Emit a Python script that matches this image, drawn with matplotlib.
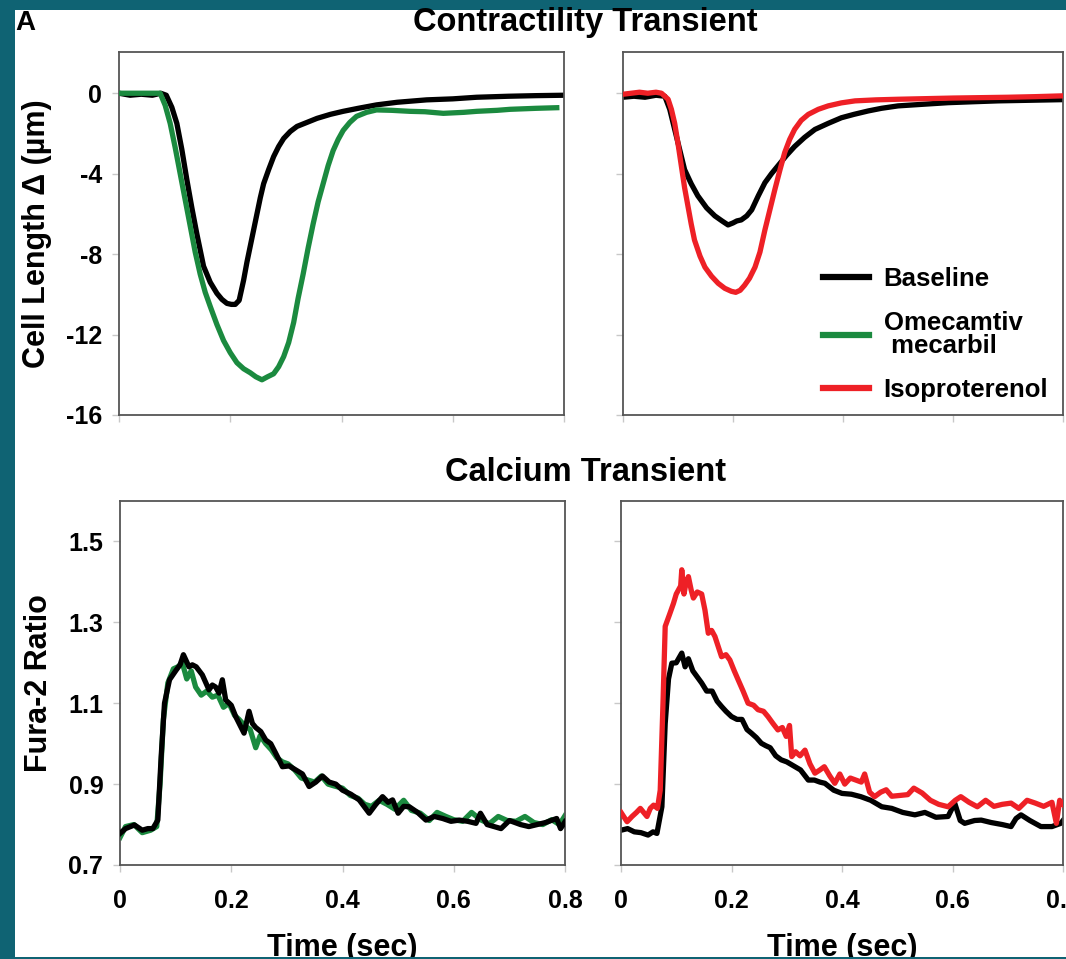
import matplotlib
matplotlib.use("Agg")
import matplotlib.pyplot as plt
from matplotlib.patches import Rectangle
from matplotlib.lines import Line2D

plt.rcParams['font.family'] = ['Liberation Sans', 'DejaVu Sans']
plt.rcParams['font.weight'] = 'bold'
plt.rcParams['axes.unicode_minus'] = False

# ---------------- data (time in s, value) ----------------
TL_BASE = [(0, 0), (0.02, -0.1), (0.04, -0.05), (0.06, -0.1), (0.075, 0), (0.085, -0.1),
           (0.095, -0.7), (0.104, -1.5), (0.113, -2.8), (0.122, -4.3), (0.131, -5.7),
           (0.140, -7.0), (0.152, -8.6), (0.164, -9.4), (0.176, -9.95), (0.185, -10.25),
           (0.194, -10.45), (0.202, -10.5), (0.209, -10.5), (0.216, -10.3), (0.224, -9.3),
           (0.230, -8.4), (0.236, -7.6), (0.242, -6.8), (0.248, -6.0), (0.254, -5.2),
           (0.260, -4.5), (0.269, -3.8), (0.278, -3.15), (0.287, -2.65), (0.296, -2.25),
           (0.308, -1.9), (0.320, -1.65), (0.338, -1.45), (0.356, -1.25), (0.38, -1.05),
           (0.403, -0.9), (0.43, -0.75), (0.463, -0.58), (0.50, -0.45), (0.553, -0.33),
           (0.60, -0.28), (0.643, -0.2), (0.70, -0.15), (0.75, -0.12), (0.80, -0.1)]

TL_OM = [(0, 0), (0.02, 0), (0.04, 0), (0.06, 0), (0.074, 0), (0.083, -0.6), (0.092, -1.5),
         (0.101, -2.7), (0.11, -4.0), (0.119, -5.3), (0.128, -6.6), (0.137, -7.9),
         (0.146, -9.0), (0.155, -9.9), (0.164, -10.6), (0.176, -11.5), (0.188, -12.3),
         (0.2, -12.9), (0.212, -13.4), (0.224, -13.7), (0.236, -13.9), (0.246, -14.1),
         (0.257, -14.25), (0.267, -14.1), (0.278, -13.95), (0.287, -13.6), (0.296, -13.1),
         (0.305, -12.4), (0.314, -11.4), (0.322, -10.2), (0.331, -9.0), (0.34, -7.7),
         (0.349, -6.5), (0.358, -5.4), (0.367, -4.5), (0.376, -3.6), (0.385, -2.85),
         (0.394, -2.3), (0.403, -1.85), (0.415, -1.45), (0.427, -1.15), (0.445, -0.95),
         (0.463, -0.83), (0.49, -0.85), (0.523, -0.9), (0.55, -0.92), (0.583, -1.0),
         (0.62, -0.95), (0.643, -0.9), (0.68, -0.85), (0.703, -0.8), (0.75, -0.75),
         (0.787, -0.72)]

TR_BASE = [(0, -0.2), (0.02, -0.15), (0.04, -0.2), (0.06, -0.1), (0.076, -0.15),
           (0.085, -0.8), (0.094, -1.8), (0.103, -2.8), (0.112, -3.8), (0.124, -4.5),
           (0.136, -5.1), (0.152, -5.7), (0.167, -6.1), (0.18, -6.35), (0.191, -6.55),
           (0.2, -6.45), (0.207, -6.35), (0.215, -6.3), (0.225, -6.1), (0.234, -5.8),
           (0.246, -5.1), (0.258, -4.45), (0.27, -4.0), (0.282, -3.6), (0.297, -3.1),
           (0.312, -2.65), (0.33, -2.2), (0.349, -1.8), (0.373, -1.5), (0.397, -1.22),
           (0.42, -1.05), (0.446, -0.88), (0.47, -0.75), (0.5, -0.63), (0.545, -0.55),
           (0.591, -0.47), (0.64, -0.42), (0.682, -0.38), (0.74, -0.35), (0.798, -0.32)]

TR_ISO = [(0, -0.05), (0.015, 0), (0.03, 0.05), (0.045, 0), (0.06, 0.05), (0.07, 0),
          (0.082, -0.3), (0.088, -0.8), (0.094, -1.5), (0.1, -2.5), (0.106, -3.6),
          (0.112, -4.7), (0.118, -5.6), (0.124, -6.5), (0.13, -7.3), (0.14, -8.1),
          (0.149, -8.65), (0.161, -9.1), (0.173, -9.45), (0.185, -9.7), (0.197, -9.85),
          (0.205, -9.9), (0.213, -9.8), (0.221, -9.55), (0.23, -9.2), (0.24, -8.65),
          (0.249, -7.9), (0.258, -6.8), (0.267, -5.8), (0.276, -4.8), (0.285, -3.85),
          (0.294, -2.95), (0.303, -2.3), (0.312, -1.8), (0.324, -1.35), (0.337, -1.05),
          (0.355, -0.8), (0.373, -0.63), (0.397, -0.48), (0.422, -0.38), (0.46, -0.33),
          (0.5, -0.3), (0.55, -0.27), (0.6, -0.24), (0.65, -0.22), (0.7, -0.2),
          (0.75, -0.17), (0.8, -0.13)]

BL_BASE = [(0, 0.778), (0.01, 0.79), (0.026, 0.799), (0.04, 0.786), (0.05, 0.79),
           (0.059, 0.79), (0.068, 0.811), (0.074, 0.968), (0.08, 1.1), (0.089, 1.158),
           (0.101, 1.182), (0.108, 1.195), (0.114, 1.22), (0.124, 1.19), (0.13, 1.195),
           (0.137, 1.19), (0.148, 1.17), (0.16, 1.133), (0.166, 1.145), (0.172, 1.14),
           (0.178, 1.125), (0.184, 1.158), (0.19, 1.108), (0.2, 1.095), (0.208, 1.067),
           (0.216, 1.045), (0.223, 1.026), (0.232, 1.08), (0.238, 1.05), (0.244, 1.04),
           (0.253, 1.03), (0.262, 1.009), (0.271, 1.0), (0.28, 0.976), (0.292, 0.943),
           (0.304, 0.945), (0.316, 0.935), (0.328, 0.925), (0.34, 0.894), (0.352, 0.905),
           (0.364, 0.92), (0.376, 0.905), (0.388, 0.9), (0.4, 0.885), (0.415, 0.875),
           (0.43, 0.861), (0.448, 0.828), (0.46, 0.85), (0.472, 0.869), (0.482, 0.855),
           (0.49, 0.861), (0.5, 0.828), (0.51, 0.845), (0.52, 0.844), (0.535, 0.83),
           (0.55, 0.811), (0.565, 0.82), (0.58, 0.815), (0.595, 0.808), (0.61, 0.811),
           (0.625, 0.808), (0.64, 0.803), (0.648, 0.828), (0.66, 0.8), (0.685, 0.79),
           (0.7, 0.81), (0.72, 0.8), (0.735, 0.795), (0.75, 0.8), (0.765, 0.805),
           (0.785, 0.815), (0.792, 0.79), (0.8, 0.807)]

BL_OM = [(0, 0.768), (0.01, 0.795), (0.025, 0.8), (0.04, 0.78), (0.055, 0.786),
         (0.066, 0.795), (0.072, 0.9), (0.078, 1.06), (0.086, 1.15), (0.096, 1.185),
         (0.104, 1.19), (0.112, 1.2), (0.12, 1.16), (0.128, 1.18), (0.136, 1.14),
         (0.146, 1.12), (0.156, 1.13), (0.166, 1.115), (0.176, 1.12), (0.186, 1.09),
         (0.196, 1.1), (0.206, 1.07), (0.214, 1.06), (0.224, 1.045), (0.234, 1.035),
         (0.244, 0.99), (0.252, 1.02), (0.262, 1.0), (0.272, 0.985), (0.282, 0.965),
         (0.292, 0.955), (0.302, 0.95), (0.314, 0.935), (0.326, 0.915), (0.338, 0.91),
         (0.35, 0.905), (0.362, 0.92), (0.374, 0.9), (0.386, 0.895), (0.4, 0.89),
         (0.414, 0.872), (0.428, 0.865), (0.44, 0.85), (0.452, 0.845), (0.466, 0.86),
         (0.48, 0.85), (0.494, 0.838), (0.51, 0.86), (0.524, 0.835), (0.54, 0.828),
         (0.556, 0.81), (0.57, 0.83), (0.586, 0.82), (0.6, 0.812), (0.616, 0.808),
         (0.632, 0.83), (0.648, 0.812), (0.664, 0.802), (0.68, 0.82), (0.696, 0.81),
         (0.712, 0.808), (0.728, 0.82), (0.744, 0.805), (0.76, 0.8), (0.776, 0.812),
         (0.79, 0.8), (0.8, 0.822)]

BR_BASE = [(0, 0.786), (0.012, 0.79), (0.024, 0.782), (0.036, 0.78), (0.049, 0.774),
           (0.058, 0.782), (0.065, 0.778), (0.074, 0.844), (0.08, 1.05), (0.086, 1.16),
           (0.092, 1.199), (0.1, 1.2), (0.11, 1.224), (0.116, 1.19), (0.122, 1.21),
           (0.13, 1.18), (0.138, 1.165), (0.146, 1.15), (0.155, 1.13), (0.165, 1.13),
           (0.174, 1.105), (0.182, 1.092), (0.19, 1.08), (0.2, 1.067), (0.21, 1.06),
           (0.219, 1.06), (0.228, 1.035), (0.236, 1.026), (0.245, 1.015), (0.254, 1.001),
           (0.262, 0.995), (0.27, 0.99), (0.28, 0.97), (0.29, 0.96), (0.3, 0.955),
           (0.315, 0.943), (0.325, 0.935), (0.339, 0.91), (0.35, 0.91), (0.36, 0.905),
           (0.369, 0.902), (0.385, 0.885), (0.4, 0.877), (0.417, 0.875), (0.434, 0.869),
           (0.452, 0.86), (0.472, 0.844), (0.49, 0.84), (0.51, 0.83), (0.532, 0.824),
           (0.55, 0.83), (0.57, 0.818), (0.592, 0.82), (0.604, 0.853), (0.614, 0.81),
           (0.622, 0.803), (0.64, 0.81), (0.652, 0.811), (0.67, 0.805), (0.69, 0.8),
           (0.706, 0.795), (0.715, 0.815), (0.724, 0.824), (0.74, 0.81), (0.76, 0.795),
           (0.78, 0.795), (0.796, 0.803), (0.8, 0.81)]

BR_ISO = [(0, 0.83), (0.011, 0.807), (0.02, 0.82), (0.028, 0.83), (0.035, 0.84),
          (0.041, 0.83), (0.047, 0.82), (0.053, 0.84), (0.059, 0.848), (0.066, 0.84),
          (0.071, 0.885), (0.076, 1.1), (0.08, 1.29), (0.088, 1.32), (0.095, 1.347),
          (0.1, 1.37), (0.104, 1.38), (0.108, 1.39), (0.11, 1.43), (0.114, 1.37),
          (0.118, 1.4), (0.122, 1.413), (0.127, 1.38), (0.131, 1.36), (0.138, 1.375),
          (0.146, 1.37), (0.152, 1.33), (0.158, 1.273), (0.164, 1.28), (0.17, 1.265),
          (0.176, 1.24), (0.182, 1.215), (0.19, 1.22), (0.197, 1.207), (0.205, 1.18),
          (0.212, 1.158), (0.221, 1.13), (0.23, 1.1), (0.24, 1.095), (0.248, 1.084),
          (0.258, 1.08), (0.266, 1.067), (0.275, 1.05), (0.284, 1.034), (0.292, 1.04),
          (0.299, 1.018), (0.305, 1.045), (0.309, 0.968), (0.316, 0.98), (0.324, 0.97),
          (0.333, 0.984), (0.342, 0.95), (0.351, 0.927), (0.36, 0.935), (0.368, 0.943),
          (0.378, 0.92), (0.387, 0.902), (0.396, 0.925), (0.405, 0.9), (0.415, 0.915),
          (0.425, 0.91), (0.435, 0.905), (0.441, 0.925), (0.45, 0.88), (0.459, 0.869),
          (0.47, 0.88), (0.48, 0.886), (0.49, 0.87), (0.505, 0.872), (0.519, 0.874),
          (0.53, 0.89), (0.545, 0.878), (0.56, 0.86), (0.575, 0.85), (0.592, 0.844),
          (0.605, 0.86), (0.615, 0.869), (0.63, 0.855), (0.645, 0.844), (0.66, 0.86),
          (0.675, 0.845), (0.69, 0.85), (0.706, 0.853), (0.72, 0.84), (0.735, 0.86),
          (0.75, 0.853), (0.765, 0.845), (0.78, 0.855), (0.788, 0.803), (0.794, 0.86),
          (0.8, 0.85)]

X_TICKS = [0, 0.2, 0.4, 0.6, 0.8]
X_LABELS = ['0', '0.2', '0.4', '0.6', '0.8']
TOP_YTICKS = [0, -4, -8, -12, -16]
TOP_YLABELS = ['0', '-4', '-8', '-12', '-16']
BOT_YTICKS = [0.7, 0.9, 1.1, 1.3, 1.5]
BOT_YLABELS = ['0.7', '0.9', '1.1', '1.3', '1.5']
LEGEND_LABELS = ['Baseline', 'Omecamtiv\n mecarbil', 'Isoproterenol']

BLACK = '#000000'
GREEN = '#1b8a3f'
RED = '#ee2026'
TEAL = '#0f6373'

W, H = 1066, 959
fig = plt.figure(figsize=(W / 100, H / 100), dpi=100)
fig.patch.set_facecolor(TEAL)
fig.add_artist(Rectangle((15 / W, 0), 1 - 15 / W, 1 - 10 / H, transform=fig.transFigure,
                         facecolor='white', edgecolor='none', zorder=-5))


def box(l, t, r, b):
    return [l / W, (H - b) / H, (r - l) / W, (b - t) / H]


def unzip(pairs):
    return [p[0] for p in pairs], [p[1] for p in pairs]


axs = {
    'tl': fig.add_axes(box(119, 52, 564, 415)),
    'tr': fig.add_axes(box(623, 52, 1063, 415)),
    'bl': fig.add_axes(box(120, 501, 565, 865)),
    'br': fig.add_axes(box(621, 501, 1063, 865)),
}

TICK_FS = 18
LABEL_FS = 22
LW = 3.8
for key, ax in axs.items():
    ax.set_xlim(0, 0.8)
    ax.set_xticks(X_TICKS)
    for sp in ax.spines.values():
        sp.set_color('#555555')
        sp.set_linewidth(1.3)
    ax.tick_params(direction='out', length=5, width=1, color='#c8c8c8',
                   labelsize=TICK_FS)
    if key in ('tl', 'tr'):
        ax.set_ylim(-16, 2.05)
        ax.set_yticks(TOP_YTICKS)
        ax.set_xticklabels([])
    else:
        ax.set_ylim(0.7, 1.6)
        ax.set_yticks(BOT_YTICKS)
        ax.set_xticklabels(X_LABELS, fontweight='bold')
        ax.tick_params(axis='x', pad=12)
        ax.set_xlabel('Time (sec)', fontsize=LABEL_FS, fontweight='bold', labelpad=15)
    if key in ('tr', 'br'):
        ax.set_yticklabels([])
    ax.tick_params(axis='y', pad=7)

axs['tl'].set_yticklabels(TOP_YLABELS, fontweight='bold')
axs['bl'].set_yticklabels(BOT_YLABELS, fontweight='bold')
axs['tl'].set_ylabel('Cell Length \u0394 (\u00b5m)', fontsize=LABEL_FS, fontweight='bold',
                     labelpad=10)
axs['bl'].set_ylabel('Fura-2 Ratio', fontsize=LABEL_FS, fontweight='bold', labelpad=10)

axs['tl'].plot(*unzip(TL_BASE), color=BLACK, lw=LW, zorder=2)
axs['tl'].plot(*unzip(TL_OM), color=GREEN, lw=LW, zorder=3)
axs['tr'].plot(*unzip(TR_BASE), color=BLACK, lw=LW, zorder=2)
axs['tr'].plot(*unzip(TR_ISO), color=RED, lw=LW, zorder=3)
axs['bl'].plot(*unzip(BL_OM), color=GREEN, lw=LW, zorder=2)
axs['bl'].plot(*unzip(BL_BASE), color=BLACK, lw=LW, zorder=3)
axs['br'].plot(*unzip(BR_ISO), color=RED, lw=LW, zorder=3)
axs['br'].plot(*unzip(BR_BASE), color=BLACK, lw=LW, zorder=2)

handles = [Line2D([], [], color=c, lw=4.5) for c in (BLACK, GREEN, RED)]
leg = axs['tr'].legend(handles, LEGEND_LABELS, loc='upper left',
                       bbox_to_anchor=(0.455, 0.408), frameon=False,
                       prop={'weight': 'bold', 'size': 18.5}, handlelength=1.8,
                       handletextpad=0.55, labelspacing=0.78, borderaxespad=0,
                       borderpad=0)
for txt in leg.get_texts():
    txt.set_linespacing(0.95)

fig.text(585 / W, 1 - 23 / H, 'Contractility Transient', ha='center', va='center',
         fontsize=23.5, fontweight='bold')
fig.text(586 / W, 1 - 472 / H, 'Calcium Transient', ha='center', va='center',
         fontsize=23.5, fontweight='bold')
fig.text(15 / W, 1 - 23 / H, 'A', ha='left', va='center', fontsize=20, fontweight='bold')

# bottom border strip drawn over the cut-off axis titles
fig.add_artist(Rectangle((0, 0), 1, 2 / H, transform=fig.transFigure,
                         facecolor=TEAL, edgecolor='none', zorder=20))

fig.savefig('out.png', dpi=100, facecolor=fig.get_facecolor())
